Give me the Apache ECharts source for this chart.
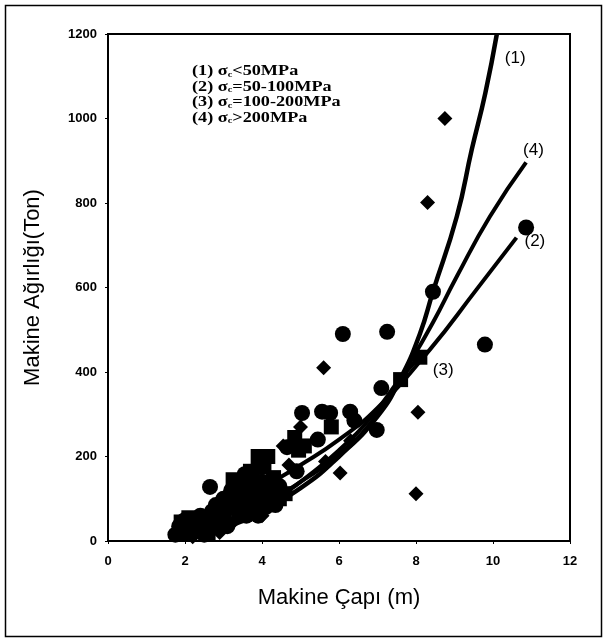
<!DOCTYPE html>
<html>
<head>
<meta charset="utf-8">
<script src="https://cdn.jsdelivr.net/npm/echarts@6/dist/echarts.min.js"></script>
<style>
  html, body { margin: 0; padding: 0; background: #fff; }
  #chart { width: 603px; height: 638px; }
</style>
</head>
<body>
<div id="chart"></div>
<script>
// ölçülen noktalar [çap (m), ağırlık (ton)]
const circles = [
  [1.75, 15], [1.85, 35], [2.0, 50], [2.1, 40], [2.2, 25], [2.3, 50], [2.4, 60],
  [2.5, 15], [2.6, 45], [2.65, 128], [2.7, 70], [2.8, 85], [2.9, 50], [2.9, 80],
  [3.0, 100], [3.1, 35], [3.1, 75], [3.2, 120], [3.3, 80], [3.3, 110], [3.4, 140],
  [3.45, 95], [3.5, 110], [3.55, 158], [3.6, 60], [3.65, 85], [3.7, 130],
  [3.8, 95], [3.85, 125], [3.9, 60], [4.0, 110], [4.0, 140], [4.1, 80],
  [4.15, 120], [4.2, 140], [4.3, 100], [4.35, 85], [4.45, 130], [4.65, 222],
  [4.9, 165], [5.04, 303], [5.45, 240], [5.56, 306], [5.77, 303], [6.29, 306],
  [6.4, 285], [6.1, 490], [6.98, 263], [7.1, 362], [7.25, 495], [8.44, 590],
  [9.79, 465], [10.86, 742]
]
const squares = [
  [1.9, 45], [2.0, 20], [2.1, 55], [2.3, 40], [2.4, 25], [2.6, 20], [2.75, 55],
  [2.8, 40], [3.0, 70], [3.2, 100], [3.25, 145], [3.4, 60], [3.5, 85], [3.6, 125],
  [3.7, 165], [3.75, 150], [3.9, 200], [4.15, 200], [4.05, 175], [4.3, 150],
  [4.45, 100], [4.6, 112], [4.85, 245], [4.95, 215], [5.1, 225], [5.8, 270],
  [7.6, 382], [8.1, 435]
]
const diamonds = [
  [2.2, 10], [2.5, 35], [2.9, 20], [3.3, 50], [3.8, 140], [4.0, 60], [4.2, 90],
  [4.55, 225], [4.7, 180], [5.0, 270], [5.65, 188], [5.6, 410], [6.03, 161],
  [6.3, 237], [8.05, 305], [8.0, 112], [8.3, 801], [8.75, 1000]
]

// regresyon eğrileri (grafikten okunan noktalar)
const curve1 = [[2.0, 20], [3, 40], [4, 75], [5, 125], [6, 200], [7, 295], [7.6, 385], [8.1, 490], [8.44, 590], [9.06, 768], [9.45, 927], [9.8, 1060], [10.1, 1200]]
const curve2 = [[2.0, 30], [3, 70], [4, 125], [5, 180], [6, 240], [7, 315], [8.36, 453], [9.57, 595], [10.61, 718]]
const curve3 = [[3.0, 30], [4, 70], [4.55, 110], [5, 140], [6, 215], [6.9, 300], [7.6, 385], [8.23, 448]]
const curve4 = [[2.5, 30], [3, 45], [4, 85], [5, 140], [6, 205], [7, 300], [7.84, 422], [8.44, 517], [9.06, 626], [9.92, 768], [10.86, 896]]

const curveLabels = ['(1)', '(2)', '(3)', '(4)']
const legendLines = [
  ['(1) ', '<50MPa'],
  ['(2) ', '=50-100MPa'],
  ['(3) ', '=100-200MPa'],
  ['(4) ', '>200MPa']
]

const chart = echarts.init(document.getElementById('chart'))

const scatter = (data, symbol, size) => ({
  type: 'scatter',
  data,
  symbol,
  symbolSize: size,
  itemStyle: { color: '#000', opacity: 1 },
  z: 3
})

const curve = (data, label, width, offset) => ({
  type: 'line',
  data,
  smooth: true,
  showSymbol: false,
  lineStyle: { color: '#000', width },
  endLabel: {
    show: true,
    formatter: label,
    offset,
    fontFamily: 'Liberation Sans',
    fontSize: 17,
    color: '#000'
  },
  z: 4
})

const option = {
  animation: false,
  backgroundColor: '#fff',
  grid: { left: 108, right: 33, top: 34, bottom: 97, show: true, borderColor: '#000', borderWidth: 2 },
  xAxis: {
    type: 'value',
    min: 0,
    max: 12,
    interval: 2,
    name: 'Makine Çapı (m)',
    nameLocation: 'middle',
    nameGap: 46,
    nameTextStyle: { fontFamily: 'Liberation Sans', fontSize: 22, color: '#000' },
    axisLine: { lineStyle: { color: '#000', width: 2 } },
    axisTick: { lineStyle: { color: '#000' }, length: 3 },
    axisLabel: { fontFamily: 'Liberation Sans', fontWeight: 'bold', fontSize: 13, color: '#000', margin: 14 },
    splitLine: { show: false }
  },
  yAxis: {
    type: 'value',
    min: 0,
    max: 1200,
    interval: 200,
    name: 'Makine Ağırlığı(Ton)',
    nameLocation: 'middle',
    nameGap: 64,
    nameTextStyle: { fontFamily: 'Liberation Sans', fontSize: 22, color: '#000' },
    axisLine: { lineStyle: { color: '#000', width: 2 } },
    axisTick: { lineStyle: { color: '#000' }, length: 3 },
    axisLabel: { fontFamily: 'Liberation Sans', fontWeight: 'bold', fontSize: 13, color: '#000', margin: 11, formatter: v => String(v) },
    splitLine: { show: false }
  },
  graphic: [
    {
      type: 'rect',
      left: 3, top: 3,
      shape: { width: 596, height: 631 },
      style: { fill: 'none', stroke: '#000', lineWidth: 1.5 }
    },
    {
      type: 'text',
      x: 192, y: 64,
      scaleX: 1.3,
      style: {
        text: legendLines.map(l => '{n|' + l[0] + '}{s|σ}{c|c}{n|' + l[1] + '}').join('\n'),
        rich: {
          n: { fontFamily: 'Liberation Serif', fontWeight: 'bold', fontSize: 14, lineHeight: 15.5, fill: '#000' },
          s: { fontFamily: 'Liberation Serif', fontWeight: 'bold', fontSize: 14, lineHeight: 15.5, fill: '#000' },
          c: { fontFamily: 'Liberation Serif', fontWeight: 'bold', fontSize: 8, lineHeight: 15.5, padding: [6, 0, 0, 0], fill: '#000' }
        }
      }
    }
  ],
  series: [
    scatter(circles, 'circle', 16),
    scatter(squares, 'rect', 15),
    scatter(diamonds, 'diamond', 15),
    curve(curve1, curveLabels[0], 4.5, [0, 24]),
    curve(curve2, curveLabels[1], 4, [0, 4]),
    curve(curve3, curveLabels[2], 4, [0, 19]),
    curve(curve4, curveLabels[3], 4, [-11, -12])
  ]
}

chart.setOption(option)
</script>
</body>
</html>
